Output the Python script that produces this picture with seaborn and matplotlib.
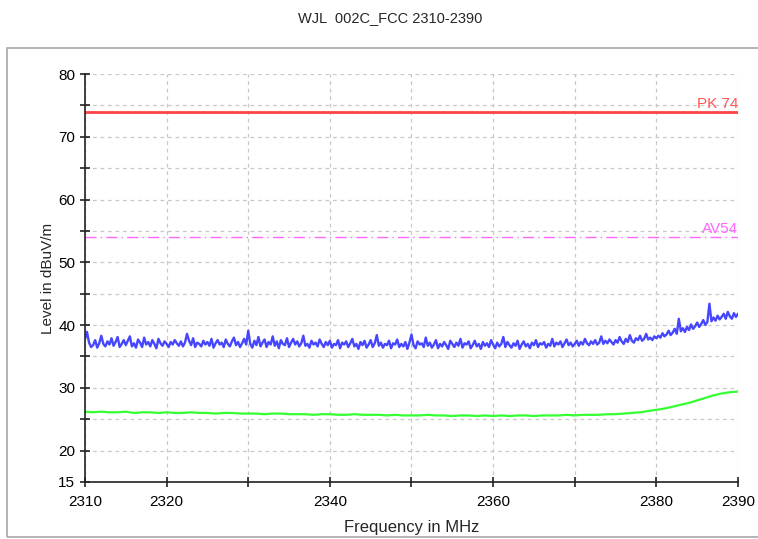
import numpy as np
import matplotlib
matplotlib.use("Agg")
import matplotlib.pyplot as plt
import seaborn as sns
from matplotlib.ticker import FixedLocator, FixedFormatter
from matplotlib.patches import Rectangle

# Peak trace (blue), one reading per 0.25 MHz, 2310 - 2390 MHz
peak_trace = [
    37.8, 38.9, 37.2, 36.5, 36.8, 37.6, 36.4, 37.1, 38.3, 37.0, 36.6, 37.4, 36.9, 37.9, 36.7, 37.3, 38.1, 36.5, 37.0, 37.6,
    36.8, 37.5, 38.2, 36.6, 37.1, 36.4, 37.7, 37.2, 36.5, 38.0, 36.9, 37.3, 36.6, 37.6, 37.0, 36.3, 37.8, 37.1, 36.7, 37.4,
    37.0, 36.5, 37.3, 36.9, 37.6, 37.1, 36.7, 37.4, 36.6, 37.2, 38.6, 37.5, 36.8, 37.9, 36.5, 37.2, 37.0, 36.6, 37.5, 36.9,
    37.3, 36.7, 37.8, 36.4, 37.1, 37.6, 36.9, 37.2, 36.5, 37.7, 37.0, 36.6, 37.4, 38.0, 36.8, 37.3, 36.5, 37.1, 37.8, 36.9,
    39.1, 37.0, 36.4, 37.5, 36.8, 38.1, 36.6, 37.2, 37.7, 36.5, 37.3, 36.9, 38.2, 36.7, 37.4, 36.3, 37.6, 37.0, 36.8, 37.9,
    36.5, 37.2, 37.8, 36.9, 37.4, 36.6, 37.1, 38.3, 36.7, 37.0, 36.4, 37.5, 36.9, 37.2, 36.6, 37.7, 37.0, 36.5, 37.3, 36.8,
    37.5, 36.4, 37.0, 36.8, 37.6, 36.3, 37.2, 36.9, 37.4, 36.5, 37.1, 37.8, 36.6, 37.0, 36.2, 37.3, 36.8, 37.5, 36.4, 36.9,
    37.6, 36.5, 37.1, 38.4, 36.7, 37.2, 36.4, 37.0, 36.8, 37.5, 36.3, 37.1, 36.9, 37.7, 36.5, 37.0, 36.6, 37.3, 36.2, 37.2,
    38.5, 36.8, 36.3, 37.4, 36.9, 37.1, 36.5, 38.0, 36.7, 37.2, 36.4, 36.9, 37.6, 36.3, 37.0, 36.6, 37.3, 36.8, 36.2, 37.5,
    37.0, 36.5, 37.2, 36.7, 37.8, 36.4, 37.1, 36.9, 37.4, 36.3, 36.8, 37.5, 36.6, 37.0, 36.2, 37.3, 36.7, 37.1, 36.5, 37.6,
    36.9, 36.3, 37.2, 36.6, 37.0, 38.1, 36.5, 37.3, 36.8, 36.4, 37.1, 36.7, 37.5, 36.2, 36.9, 37.4, 36.6, 37.0, 36.3, 37.2,
    36.8, 37.6, 36.5, 37.1, 36.9, 37.3, 36.4, 37.0, 36.7, 37.8, 36.6, 37.2, 36.9, 37.4, 36.5, 37.1, 37.7, 36.8, 37.2, 36.6,
    37.0, 37.5, 36.7, 37.3, 36.9, 37.8, 37.1, 36.8, 37.4, 37.0, 37.6, 36.9, 37.2, 38.2, 37.0, 37.5, 37.1, 37.7, 37.3, 36.9,
    37.6, 37.2, 38.1, 37.4, 37.0, 37.8, 37.3, 38.4, 37.5, 37.2, 37.9, 37.6, 38.3, 37.5, 37.8, 38.6, 37.7, 38.0, 37.6, 38.2,
    37.9, 38.3, 38.0, 38.7, 38.2, 38.5, 39.1, 38.4, 38.8, 39.4, 38.6, 41.0, 39.0, 39.5, 38.9, 39.7, 39.2, 40.1, 39.4, 39.8,
    40.4, 39.7, 40.2, 40.8, 40.0, 40.5, 43.4, 40.6, 41.2, 40.7, 41.5, 40.9, 41.3, 41.8, 41.0, 42.1, 41.4, 41.0, 41.9, 41.3,
    41.8,
]

# Average trace (green), one reading per 1 MHz, 2310 - 2390 MHz
avg_trace = [
    26.2, 26.1, 26.2, 26.1, 26.1, 26.2, 26.0, 26.1, 26.1, 26.0,
    26.1, 26.0, 26.0, 26.1, 26.0, 26.0, 25.9, 26.0, 26.0, 25.9,
    25.9, 25.9, 25.8, 25.9, 25.9, 25.8, 25.8, 25.8, 25.7, 25.8,
    25.8, 25.7, 25.7, 25.8, 25.7, 25.7, 25.7, 25.6, 25.7, 25.6,
    25.6, 25.6, 25.7, 25.6, 25.6, 25.5, 25.6, 25.6, 25.5, 25.6,
    25.5, 25.6, 25.5, 25.6, 25.6, 25.5, 25.6, 25.6, 25.6, 25.7,
    25.6, 25.7, 25.7, 25.7, 25.8, 25.8, 25.9, 26.0, 26.1, 26.3,
    26.5, 26.7, 27.0, 27.3, 27.6, 28.0, 28.4, 28.8, 29.1, 29.3, 29.4,
]

freq_start, freq_stop = 2310, 2390
pk_limit = 74
av_limit = 54
x_ticks = [2310, 2320, 2330, 2340, 2350, 2360, 2370, 2380, 2390]
x_tick_labels = ["2310", "2320", "", "2340", "", "2360", "", "2380", "2390"]

peak_freq = np.linspace(freq_start, freq_stop, len(peak_trace))
avg_freq = np.linspace(freq_start, freq_stop, len(avg_trace))

sns.set_style("ticks")
plt.rcParams["font.family"] = ["Liberation Sans", "DejaVu Sans"]

fig = plt.figure(figsize=(7.58, 5.39), dpi=100)
ax = fig.add_axes([0.1121, 0.1058, 0.8615, 0.7569])

# outer frame around the plot area
fig.patches.append(Rectangle((0.009, 0.004), 0.995, 0.907, transform=fig.transFigure,
                             fill=False, edgecolor="#a8a8a8", linewidth=1.2))

# limit lines
ax.axhline(pk_limit, color="#ff4444", linewidth=2)
ax.axhline(av_limit, color="#ff66ff", linewidth=1, linestyle=(0, (8, 3, 1, 3)))
ax.text(freq_stop, pk_limit + 0.05, "PK 74", color="#ff5555", fontsize=11,
        ha="right", va="bottom")
ax.text(freq_stop, av_limit + 0.2, "AV54", color="#ff66ff", fontsize=11,
        ha="right", va="bottom")

# measured traces
sns.lineplot(x=peak_freq, y=peak_trace, ax=ax, color="#4646ff", linewidth=1.7)
sns.lineplot(x=avg_freq, y=avg_trace, ax=ax, color="#33ff33", linewidth=1.6)

ax.set_xlim(freq_start, freq_stop)
ax.set_ylim(15, 80)
ax.xaxis.set_major_locator(FixedLocator(x_ticks))
ax.xaxis.set_major_formatter(FixedFormatter(x_tick_labels))
ax.yaxis.set_major_locator(FixedLocator([15, 20, 30, 40, 50, 60, 70, 80]))
ax.yaxis.set_minor_locator(FixedLocator([25, 35, 45, 55, 65, 75]))

ax.grid(True, which="both", axis="y", color="#c8c8c8", linestyle=(0, (3, 3)), linewidth=0.9)
ax.grid(True, which="major", axis="x", color="#c8c8c8", linestyle=(0, (3, 3)), linewidth=0.9)
ax.set_axisbelow(True)

for side in ["top", "right"]:
    ax.spines[side].set_visible(False)
for side in ["left", "bottom"]:
    ax.spines[side].set_color("#222222")
    ax.spines[side].set_linewidth(1.2)

ax.tick_params(axis="both", which="both", direction="inout", length=7, width=1.2,
               colors="#222222", labelsize=11, labelcolor="black")
ax.tick_params(axis="x", pad=6)

ax.set_xlabel("Frequency in MHz", fontsize=12, labelpad=8)
ax.set_ylabel("Level in dBuV/m", fontsize=11)
ax.yaxis.set_label_coords(-0.046, 0.5)

fig.text(0.515, 0.966, "WJL  002C_FCC 2310-2390", fontsize=10.5, ha="center", va="center")

fig.savefig("out.png", dpi=100)
